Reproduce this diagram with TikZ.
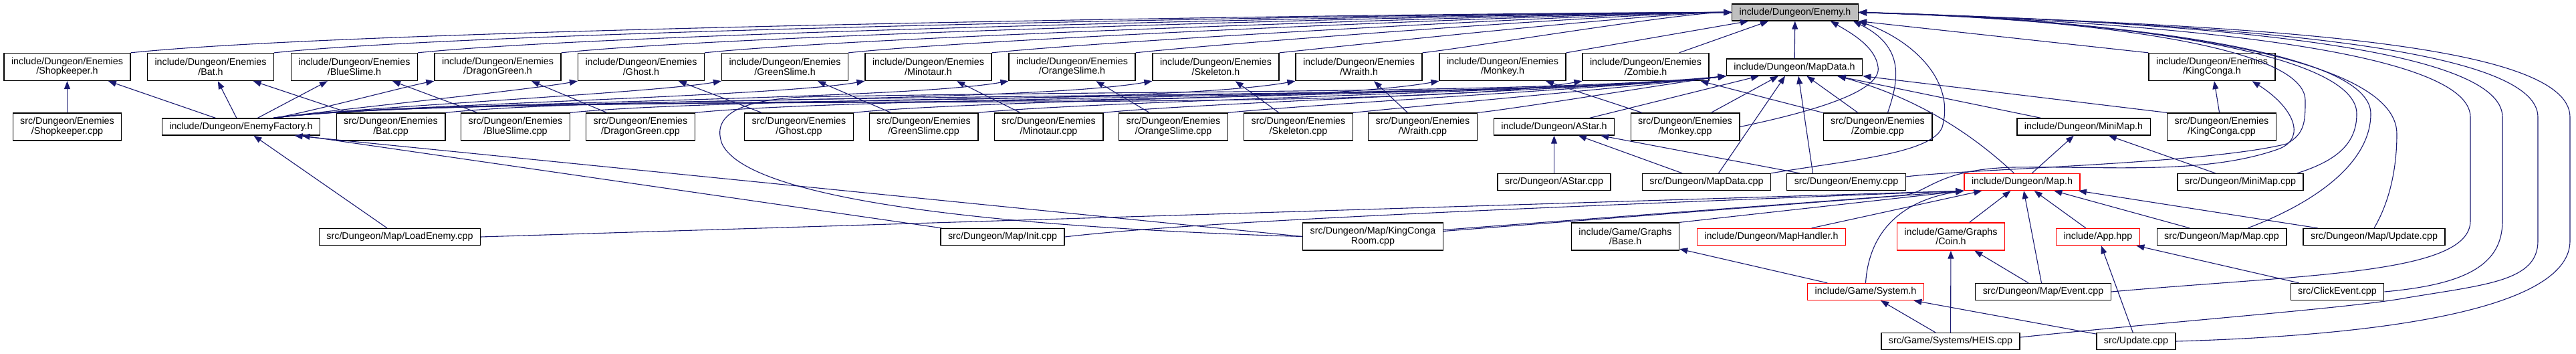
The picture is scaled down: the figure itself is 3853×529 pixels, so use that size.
\documentclass[tikz,border=0pt]{standalone}
\usepackage{fontspec}
\setmainfont{Liberation Sans}
\usepackage{xcolor}
\usepackage{tikz}
\usetikzlibrary{arrows.meta, calc}
\definecolor{edgeblue}{HTML}{191970}
\definecolor{rootgray}{HTML}{BFBFBF}

\begin{document}
\begin{tikzpicture}[x=1pt, y=-1pt,
  file/.style={draw, fill=white, line width=1.3pt, inner xsep=11pt, inner ysep=0pt,
               minimum height=25pt, align=center, font=\fontsize{14.3}{14.6}\selectfont},
  two/.style={minimum height=41pt},
  trunc/.style={draw=red},
  root/.style={fill=rootgray},
  arr/.style={-{Triangle[length=12pt, width=9pt]}, draw=edgeblue, line width=1.1pt},
]
  \useasboundingbox (0,0) rectangle (3853,529);

  \node[file, root] (enemyH) at (2685,18.5) {include/Dungeon/Enemy.h};

  \node[file, two] (shopH)   at (100.5,100)  {include/Dungeon/Enemies\\/Shopkeeper.h};
  \node[file, two] (batH)    at (315,100)    {include/Dungeon/Enemies\\/Bat.h};
  \node[file, two] (blueH)   at (530,100)    {include/Dungeon/Enemies\\/BlueSlime.h};
  \node[file, two] (dragonH) at (744.5,100)  {include/Dungeon/Enemies\\/DragonGreen.h};
  \node[file, two] (ghostH)  at (959,100)    {include/Dungeon/Enemies\\/Ghost.h};
  \node[file, two] (greenH)  at (1174,100)   {include/Dungeon/Enemies\\/GreenSlime.h};
  \node[file, two] (minoH)   at (1388.5,100) {include/Dungeon/Enemies\\/Minotaur.h};
  \node[file, two] (orangeH) at (1603.5,100) {include/Dungeon/Enemies\\/OrangeSlime.h};
  \node[file, two] (skelH)   at (1818.5,100) {include/Dungeon/Enemies\\/Skeleton.h};
  \node[file, two] (wraithH) at (2032.5,100) {include/Dungeon/Enemies\\/Wraith.h};
  \node[file, two] (monkeyH) at (2247.5,100) {include/Dungeon/Enemies\\/Monkey.h};
  \node[file, two] (zombieH) at (2461.5,100) {include/Dungeon/Enemies\\/Zombie.h};
  \node[file] (mapdataH)     at (2684,100.5) {include/Dungeon/MapData.h};
  \node[file, two] (kcH)     at (3308.5,100) {include/Dungeon/Enemies\\/KingConga.h};

  \node[file, two] (shopC)   at (100.5,189.5)  {src/Dungeon/Enemies\\/Shopkeeper.cpp};
  \node[file] (ef)           at (360.5,189.5)  {include/Dungeon/EnemyFactory.h};
  \node[file, two] (batC)    at (584.5,189.5)  {src/Dungeon/Enemies\\/Bat.cpp};
  \node[file, two] (blueC)   at (771,189.5)    {src/Dungeon/Enemies\\/BlueSlime.cpp};
  \node[file, two] (dragonC) at (958,189.5)    {src/Dungeon/Enemies\\/DragonGreen.cpp};
  \node[file, two] (ghostC)  at (1195,189.5)   {src/Dungeon/Enemies\\/Ghost.cpp};
  \node[file, two] (greenC)  at (1381.5,189.5) {src/Dungeon/Enemies\\/GreenSlime.cpp};
  \node[file, two] (minoC)   at (1568.5,189.5) {src/Dungeon/Enemies\\/Minotaur.cpp};
  \node[file, two] (orangeC) at (1755,189.5)   {src/Dungeon/Enemies\\/OrangeSlime.cpp};
  \node[file, two] (skelC)   at (1942,189.5)   {src/Dungeon/Enemies\\/Skeleton.cpp};
  \node[file, two] (wraithC) at (2128,189.5)   {src/Dungeon/Enemies\\/Wraith.cpp};
  \node[file] (astarH)       at (2324.5,189.5) {include/Dungeon/AStar.h};
  \node[file, two] (monkeyC) at (2520.5,189.5) {src/Dungeon/Enemies\\/Monkey.cpp};
  \node[file, two] (zombieC) at (2808.5,189.5) {src/Dungeon/Enemies\\/Zombie.cpp};
  \node[file] (minimapH)     at (3116.5,189.5) {include/Dungeon/MiniMap.h};
  \node[file, two] (kcC)     at (3323,189.5)   {src/Dungeon/Enemies\\/KingConga.cpp};

  \node[file] (astarC)       at (2324.5,272) {src/Dungeon/AStar.cpp};
  \node[file] (mapdataC)     at (2552.5,272) {src/Dungeon/MapData.cpp};
  \node[file] (enemyC)       at (2761.5,272) {src/Dungeon/Enemy.cpp};
  \node[file, trunc] (maph)  at (3024.5,272) {include/Dungeon/Map.h};
  \node[file] (minimapC)     at (3351,272)   {src/Dungeon/MiniMap.cpp};

  \node[file] (loadC)             at (598,354)      {src/Dungeon/Map/LoadEnemy.cpp};
  \node[file] (initC)             at (1499.5,354)   {src/Dungeon/Map/Init.cpp};
  \node[file, two] (kcroomC)      at (2053.5,353.5) {src/Dungeon/Map/KingConga\\Room.cpp};
  \node[file, two] (baseH)        at (2431,353.5)   {include/Game/Graphs\\/Base.h};
  \node[file, trunc] (handlerH)   at (2649.5,354)   {include/Dungeon/MapHandler.h};
  \node[file, two, trunc] (coinH) at (2918,353.5)   {include/Game/Graphs\\/Coin.h};
  \node[file, trunc] (appH)       at (3138,354)     {include/App.hpp};
  \node[file] (mapC)              at (3323,354)     {src/Dungeon/Map/Map.cpp};
  \node[file] (updmapC)           at (3551,354)     {src/Dungeon/Map/Update.cpp};

  \node[file, trunc] (systemH) at (2790.5,436) {include/Game/System.h};
  \node[file] (eventC)         at (3056,436)   {src/Dungeon/Map/Event.cpp};
  \node[file] (clickC)         at (3496,436)   {src/ClickEvent.cpp};

  \node[file] (heisC) at (2917.5,510) {src/Game/Systems/HEIS.cpp};
  \node[file] (updC)  at (3195,510)   {src/Update.cpp};

  \draw[arr] (shopH.north east) .. controls +(373,-39) and +(-375,0) .. (enemyH.west);
  \draw[arr] (batH.north east) .. controls +(340,-36) and +(-342,0) .. (enemyH.west);
  \draw[arr] (blueH.north east) .. controls +(306,-32) and +(-308,0) .. (enemyH.west);
  \draw[arr] (dragonH.north east) .. controls +(273,-29) and +(-275,0) .. (enemyH.west);
  \draw[arr] (ghostH.north east) .. controls +(240,-25) and +(-241,0) .. (enemyH.west);
  \draw[arr] (greenH.north east) .. controls +(206,-22) and +(-207,0) .. (enemyH.west);
  \draw[arr] (minoH.north east) .. controls +(173,-18) and +(-174,0) .. (enemyH.west);
  \draw[arr] (orangeH.north east) .. controls +(139,-15) and +(-140,0) .. (enemyH.west);
  \draw[arr] (skelH.north east) .. controls +(105,-11) and +(-106,0) .. (enemyH.west);
  \draw[arr] (wraithH.north east) .. controls +(72,-8) and +(-73,0) .. (enemyH.west);
  \draw[arr] (monkeyH.north east) -- ([xshift=25pt]enemyH.south west);
  \draw[arr] ([xshift=50pt]zombieH.north) -- ([xshift=55pt]enemyH.south west);
  \draw[arr] (mapdataH) -- (enemyH);
  \draw[arr] (kcH.north west) -- (enemyH.south east);
  \draw[arr] (monkeyC.east) .. controls (2720,165) and (2815,135) .. (2809,100)
    .. controls (2805,70) and (2770,50) .. ([xshift=-42pt]enemyH.south east);
  \draw[arr] ([xshift=15pt]zombieC.north) .. controls (2840,120) and (2850,70) .. ([xshift=-8pt]enemyH.south east);
  \draw[arr] (mapdataC.north east) .. controls (2760,240) and (2890,230) .. (2905,190)
    .. controls (2925,120) and (2860,60) .. (enemyH.south east);

  \draw[arr] ([yshift=8pt]enemyC.east) .. controls (2950,252) and (3300,245) .. (3420,215)
    .. controls (3448,200) and (3448,180) .. (3448,150) .. controls (3448,60) and (3050,25) .. (enemyH.east);
  \draw[arr] ([xshift=85pt]minimapC.north) .. controls (3495,240) and (3525,215) .. (3525,170)
    .. controls (3525,70) and (3100,25) .. (enemyH.east);
  \draw[arr] ([xshift=39pt]mapC.north) .. controls (3470,300) and (3546,240) .. (3546,170)
    .. controls (3546,70) and (3120,28) .. (enemyH.east);
  \draw[arr] (updmapC.north) .. controls (3575,300) and (3585,250) .. (3585,200)
    .. controls (3585,75) and (3150,30) .. (enemyH.east);
  \draw[arr] (eventC.east) .. controls (3450,410) and (3695,410) .. (3695,330) -- (3695,175)
    .. controls (3695,70) and (3200,32) .. (enemyH.east);
  \draw[arr] (clickC.east) .. controls (3690,425) and (3743,395) .. (3743,330) -- (3743,175)
    .. controls (3743,65) and (3250,32) .. (enemyH.east);
  \draw[arr] ([yshift=6pt]heisC.east) .. controls (3250,480) and (3520,460) .. (3600,445)
    .. controls (3720,425) and (3796,420) .. (3796,360) -- (3796,175)
    .. controls (3796,65) and (3300,35) .. (enemyH.east);
  \draw[arr] (updC.east) .. controls (3600,500) and (3844,455) .. (3844,360) -- (3844,175)
    .. controls (3844,60) and (3350,38) .. (enemyH.east);

  \draw[arr] (ef) -- (shopH);
  \draw[arr] (ef) -- (batH);
  \draw[arr] (ef) -- (blueH);
  \draw[arr] ([xshift=-70pt]ef.north east) .. controls +(38,-5) and +(-38,7) .. (dragonH.south west);
  \draw[arr] ([xshift=-70pt]ef.north east) .. controls +(71,-10) and +(-71,13) .. (ghostH.south west);
  \draw[arr] ([xshift=-70pt]ef.north east) .. controls +(104,-15) and +(-103,18) .. (greenH.south west);
  \draw[arr] ([xshift=-70pt]ef.north east) .. controls +(138,-19) and +(-137,24) .. (minoH.south west);
  \draw[arr] ([xshift=-70pt]ef.north east) .. controls +(171,-24) and +(-170,30) .. (orangeH.south west);
  \draw[arr] ([xshift=-70pt]ef.north east) .. controls +(204,-29) and +(-203,36) .. (skelH.south west);
  \draw[arr] ([xshift=-70pt]ef.north east) .. controls +(238,-33) and +(-236,42) .. (wraithH.south west);
  \draw[arr] ([xshift=-70pt]ef.north east) .. controls +(271,-38) and +(-270,48) .. (monkeyH.south west);
  \draw[arr] ([xshift=-70pt]ef.north east) .. controls +(304,-43) and +(-302,53) .. (zombieH.south west);

  \draw[arr] (shopC) -- (shopH);
  \draw[arr] (batC) -- (batH);
  \draw[arr] (blueC) -- (blueH);
  \draw[arr] (dragonC) -- (dragonH);
  \draw[arr] (ghostC) -- (ghostH);
  \draw[arr] (greenC) -- (greenH);
  \draw[arr] (minoC) -- (minoH);
  \draw[arr] (orangeC) -- (orangeH);
  \draw[arr] (skelC) -- (skelH);
  \draw[arr] (wraithC) -- (wraithH);
  \draw[arr] (monkeyC) -- (monkeyH);
  \draw[arr] (zombieC) -- (zombieH);
  \draw[arr] (kcC) -- (kcH);

  \draw[arr] (batC.north east) .. controls +(299,-32) and +(-299,37) .. (mapdataH.south west);
  \draw[arr] (blueC.north east) .. controls +(270,-28) and +(-269,33) .. (mapdataH.south west);
  \draw[arr] (dragonC.north east) .. controls +(241,-25) and +(-240,30) .. (mapdataH.south west);
  \draw[arr] (ghostC.north east) .. controls +(204,-22) and +(-204,25) .. (mapdataH.south west);
  \draw[arr] (greenC.north east) .. controls +(175,-18) and +(-175,21) .. (mapdataH.south west);
  \draw[arr] (minoC.north east) .. controls +(145,-15) and +(-145,18) .. (mapdataH.south west);
  \draw[arr] (orangeC.north east) .. controls +(116,-12) and +(-116,14) .. (mapdataH.south west);
  \draw[arr] (skelC.north east) .. controls +(88,-9) and +(-87,11) .. (mapdataH.south west);
  \draw[arr] (wraithC.north east) .. controls +(59,-6) and +(-59,7) .. (mapdataH.south west);
  \draw[arr] (monkeyC) -- (mapdataH);
  \draw[arr] (zombieC) -- (mapdataH);
  \draw[arr] (astarH) -- (mapdataH);
  \draw[arr] ([xshift=18pt]mapdataC.north) -- ([xshift=-14pt]mapdataH.south);
  \draw[arr] ([xshift=-50pt]enemyC.north) -- ([xshift=6pt]mapdataH.south);
  \draw[arr] (minimapH) -- (mapdataH);
  \draw[arr] ([xshift=-12pt]maph.north) .. controls (2960,210) and (2880,150) .. ([xshift=65pt]mapdataH.south);
  \draw[arr] (kcC.north west) -- (mapdataH.south east);
  \draw[arr] (kcroomC.west) .. controls (1500,340) and (1120,300) .. (1080,215)
    .. controls (1065,175) and (1100,150) .. (1200,145) .. controls (1700,135) and (2300,140) .. (mapdataH.south west);

  \draw[arr] (loadC) -- (ef);
  \draw[arr] (initC) -- (ef);
  \draw[arr] (kcroomC.west) -- ([xshift=80pt]ef.south);

  \draw[arr] (astarC) -- (astarH);
  \draw[arr] (mapdataC) -- (astarH);
  \draw[arr] (enemyC) -- (astarH);

  \draw[arr] (maph) -- (minimapH);
  \draw[arr] (minimapC) -- (minimapH);

  \draw[arr] (loadC.east) -- (maph.south west);
  \draw[arr] (initC.east) .. controls (1800,330) and (2300,310) .. (maph.south west);
  \draw[arr] ([yshift=8pt]kcroomC.east) -- (maph.south west);
  \draw[arr] (baseH.north east) -- (maph.south west);
  \draw[arr] (systemH.north) .. controls (2795,350) and (2840,300) .. (maph.south west);
  \draw[arr] (handlerH) -- (maph);
  \draw[arr] (coinH) -- (maph);
  \draw[arr] (eventC) -- (maph);
  \draw[arr] (appH) -- (maph);
  \draw[arr] (mapC) -- (maph);
  \draw[arr] (updmapC) -- (maph);
  \draw[arr] ([yshift=10pt]kcroomC.east) -- (2845,292) .. controls (2885,289) and (2895,253) .. (3011,250)
    .. controls (3150,248) and (3300,262) .. (3410,222) .. controls (3450,205) and (3430,160) .. ([xshift=60pt]kcH.south);

  \draw[arr] (eventC) -- (coinH);
  \draw[arr] (heisC) -- (coinH);
  \draw[arr] (heisC) -- (systemH);
  \draw[arr] (updC) -- (systemH);
  \draw[arr] (systemH) -- (baseH);
  \draw[arr] (updC) -- (appH);
  \draw[arr] (clickC) -- (appH);
\end{tikzpicture}
\end{document}
